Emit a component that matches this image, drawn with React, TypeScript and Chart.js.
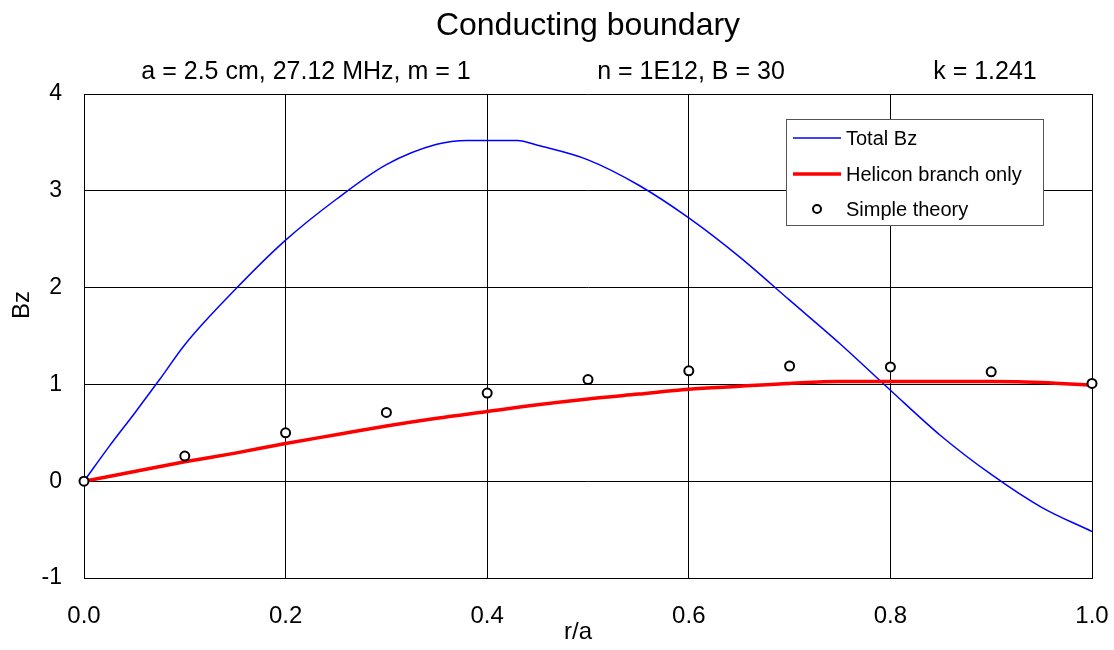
import React, { useEffect, useRef } from "react";
import { Chart, registerables } from "chart.js";

Chart.register(...registerables);

const titleText = "Conducting boundary";
const subtitleTexts = ["a = 2.5 cm, 27.12 MHz, m = 1", "n = 1E12, B = 30", "k = 1.241"];
const xAxisTitle = "r/a";
const yAxisTitle = "Bz";
const seriesLabels = ["Total Bz", "Helicon branch only", "Simple theory"];

const totalR = [0, 0.025, 0.05, 0.075, 0.1, 0.15, 0.2, 0.25, 0.3, 0.35, 0.38, 0.43, 0.45, 0.5, 0.55, 0.6, 0.65, 0.7, 0.75, 0.8, 0.85, 0.9, 0.95, 1.0];
const totalBz = [0, 0.36, 0.7, 1.05, 1.41, 1.98, 2.49, 2.91, 3.27, 3.48, 3.52, 3.52, 3.47, 3.32, 3.06, 2.72, 2.32, 1.87, 1.42, 0.94, 0.47, 0.07, -0.27, -0.52];

const heliconR = [0, 0.05, 0.1, 0.15, 0.2, 0.25, 0.3, 0.35, 0.4, 0.45, 0.5, 0.55, 0.6, 0.65, 0.7, 0.75, 0.8, 0.85, 0.9, 0.95, 1.0];
const heliconBz = [0, 0.1, 0.2, 0.29, 0.39, 0.48, 0.57, 0.65, 0.72, 0.79, 0.85, 0.9, 0.95, 0.98, 1.01, 1.03, 1.03, 1.03, 1.03, 1.02, 0.99];

const simpleR = [0, 0.1, 0.2, 0.3, 0.4, 0.5, 0.6, 0.7, 0.8, 0.9, 1.0];
const simpleBz = [0, 0.26, 0.5, 0.71, 0.91, 1.05, 1.14, 1.19, 1.18, 1.13, 1.01];

const FONT = "'Liberation Sans', Arial, sans-serif";

const toXY = (xs: number[], ys: number[]) => xs.map((x, i) => ({ x, y: ys[i] }));

const decorPlugin = {
  id: "decor",
  afterDraw(chart: any) {
    const { ctx, chartArea } = chart;
    const cx = (chartArea.left + chartArea.right) / 2;
    ctx.save();
    ctx.fillStyle = "#000";
    ctx.textAlign = "center";
    ctx.textBaseline = "middle";
    ctx.font = `32px ${FONT}`;
    ctx.fillText(titleText, cx, 26);
    ctx.font = `25px ${FONT}`;
    const subX = [306, 691, 985];
    subtitleTexts.forEach((t, i) => ctx.fillText(t, subX[i], 72));
    // axis titles
    ctx.font = `24px ${FONT}`;
    ctx.fillText(xAxisTitle, 578, 632);
    ctx.save();
    ctx.translate(22, 305);
    ctx.rotate(-Math.PI / 2);
    ctx.fillText(yAxisTitle, 0, 0);
    ctx.restore();

    // legend
    const lx = 786, ly = 119, lw = 257, lh = 106;
    ctx.fillStyle = "#fff";
    ctx.fillRect(lx, ly, lw, lh);
    ctx.strokeStyle = "#555";
    ctx.lineWidth = 1;
    ctx.strokeRect(lx + 0.5, ly + 0.5, lw, lh);
    const rows = [138, 174, 209];
    ctx.textAlign = "left";
    ctx.font = `20px ${FONT}`;
    ctx.fillStyle = "#000";
    ctx.strokeStyle = "#0000ff";
    ctx.lineWidth = 1.5;
    ctx.beginPath();
    ctx.moveTo(793, rows[0]);
    ctx.lineTo(841, rows[0]);
    ctx.stroke();
    ctx.strokeStyle = "#ff0000";
    ctx.lineWidth = 3.5;
    ctx.beginPath();
    ctx.moveTo(793, rows[1]);
    ctx.lineTo(841, rows[1]);
    ctx.stroke();
    ctx.strokeStyle = "#000";
    ctx.fillStyle = "#fff";
    ctx.lineWidth = 2;
    ctx.beginPath();
    ctx.arc(817, rows[2], 4, 0, Math.PI * 2);
    ctx.fill();
    ctx.stroke();
    ctx.fillStyle = "#000";
    seriesLabels.forEach((t, i) => ctx.fillText(t, 846, rows[i] + 1));
    ctx.restore();
  },
};

export default function App() {
  const ref = useRef<HTMLCanvasElement | null>(null);
  useEffect(() => {
    if (!ref.current) return;
    const chart = new Chart(ref.current, {
      type: "line",
      data: {
        datasets: [
          {
            label: seriesLabels[2],
            data: toXY(simpleR, simpleBz),
            showLine: false,
            pointRadius: 4.5,
            pointBorderWidth: 2,
            pointBorderColor: "#000",
            pointBackgroundColor: "#fff",
            borderColor: "#000",
            backgroundColor: "#fff",
            clip: false,
            order: 0,
          },
          {
            label: seriesLabels[1],
            data: toXY(heliconR, heliconBz),
            borderColor: "#ff0000",
            borderWidth: 3.5,
            pointRadius: 0,
            cubicInterpolationMode: "monotone",
            order: 1,
          },
          {
            label: seriesLabels[0],
            data: toXY(totalR, totalBz),
            borderColor: "#0000ff",
            borderWidth: 1.5,
            pointRadius: 0,
            cubicInterpolationMode: "monotone",
            order: 2,
          },
        ],
      },
      options: {
        animation: false,
        responsive: false,
        maintainAspectRatio: false,
        layout: { padding: { top: 94, right: 22, left: 0, bottom: 0 } },
        plugins: { legend: { display: false }, tooltip: { enabled: false }, title: { display: false } },
        scales: {
          x: {
            type: "linear",
            min: 0,
            max: 1,
            afterFit: (s: any) => {
              s.height = 72;
              s.paddingLeft = 0;
              s.paddingRight = 0;
            },
            ticks: {
              stepSize: 0.2,
              callback: (v: any) => Number(v).toFixed(1),
              color: "#000",
              font: { family: FONT, size: 24 },
              padding: 24,
              maxRotation: 0,
            },
            grid: { color: "#000", lineWidth: 1, drawTicks: false },
            border: { color: "#000", width: 1 },
          },
          y: {
            type: "linear",
            min: -1,
            max: 4,
            afterFit: (s: any) => {
              s.width = 84;
              s.paddingTop = 0;
              s.paddingBottom = 0;
            },
            ticks: {
              stepSize: 1,
              color: "#000",
              font: { family: FONT, size: 23 },
              padding: 22,
            },
            grid: { color: "#000", lineWidth: 1, drawTicks: false },
            border: { color: "#000", width: 1 },
          },
        },
      },
      plugins: [decorPlugin],
    } as any);
    return () => chart.destroy();
  }, []);
  return (
    <div style={{ position: "fixed", left: 0, top: 0, width: 1114, height: 650, background: "#fff" }}>
      <canvas ref={ref} width={1114} height={650} />
    </div>
  );
}
